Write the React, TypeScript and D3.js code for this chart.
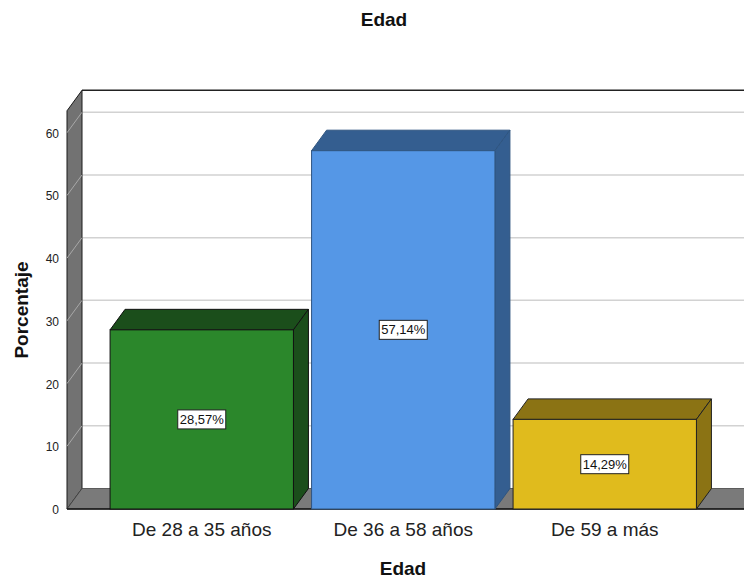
import React from "react";
import * as d3 from "d3";

const categories = ["De 28 a 35 años", "De 36 a 58 años", "De 59 a más"];
const values = [28.57, 57.14, 14.29];
const valueLabels = ["28,57%", "57,14%", "14,29%"];
const yTicks = [0, 10, 20, 30, 40, 50, 60];
const frontColors = ["#2b872b", "#5597e6", "#e0bb1d"];
const sideColors = ["#1b4e1b", "#345e90", "#8b7314"];
const strokeColors = ["#111", "#2f5580", "#222"];

const W = 744;
const H = 581;
const DX = 15;
const DY = -20.5;
const FONT = "'Liberation Sans', Arial, sans-serif";

export default function App() {
  const y = d3.scaleLinear().domain([0, 63.5]).range([509, 110.8]);
  const x = d3
    .scaleBand<string>()
    .domain(categories)
    .range([101, 705.5])
    .paddingInner(0.09)
    .paddingOuter(0.045);

  const wallLeft = 67;
  const right = W + 20;
  const y0 = y(0);
  const yTop = y(63.5);

  return (
    <svg
      width={W}
      height={H}
      style={{ position: "absolute", left: 0, top: 0, background: "#fff" }}
      fontFamily={FONT}
    >
      {/* back wall gridlines */}
      {yTicks.filter((t) => t > 0).map((t) => (
        <line
          key={t}
          x1={wallLeft + DX}
          x2={right}
          y1={y(t) + DY}
          y2={y(t) + DY}
          stroke="#d2d2d2"
          strokeWidth={1.5}
        />
      ))}
      {/* back wall top border */}
      <line x1={wallLeft + DX} x2={right} y1={yTop + DY} y2={yTop + DY} stroke="#222" strokeWidth={1.5} />
      {/* left wall */}
      <path
        d={`M${wallLeft},${y0} L${wallLeft},${yTop} L${wallLeft + DX},${yTop + DY} L${wallLeft + DX},${y0 + DY} Z`}
        fill="#727272"
        stroke="#1a1a1a"
        strokeWidth={1}
      />
      {yTicks.filter((t) => t > 0).map((t) => (
        <line
          key={"lw" + t}
          x1={wallLeft}
          y1={y(t)}
          x2={wallLeft + DX}
          y2={y(t) + DY}
          stroke="#a8a8a8"
          strokeWidth={1}
        />
      ))}
      {/* floor */}
      <path
        d={`M${wallLeft},${y0} L${wallLeft + DX},${y0 + DY} L${right},${y0 + DY} L${right},${y0} Z`}
        fill="#7a7a7a"
        stroke="#444"
        strokeWidth={0.8}
      />
      <line x1={wallLeft} x2={right} y1={y0} y2={y0} stroke="#111" strokeWidth={1.5} />

      {/* bars */}
      {categories.map((c, i) => {
        const bx = x(c) as number;
        const bw = x.bandwidth();
        const by = y(values[i]);
        return (
          <g key={c}>
            <path
              d={`M${bx},${by} L${bx + DX},${by + DY} L${bx + bw + DX},${by + DY} L${bx + bw},${by} Z`}
              fill={sideColors[i]}
              stroke={strokeColors[i]}
              strokeWidth={1}
            />
            <path
              d={`M${bx + bw},${by} L${bx + bw + DX},${by + DY} L${bx + bw + DX},${y0 + DY} L${bx + bw},${y0} Z`}
              fill={sideColors[i]}
              stroke={strokeColors[i]}
              strokeWidth={1}
            />
            <rect
              x={bx}
              y={by}
              width={bw}
              height={y0 - by}
              fill={frontColors[i]}
              stroke={strokeColors[i]}
              strokeWidth={1}
            />
            <rect
              x={bx + bw / 2 - 24}
              y={(by + y0) / 2 - 9.5}
              width={48}
              height={19}
              fill="#fff"
              stroke="#222"
              strokeWidth={1}
            />
            <text
              x={bx + bw / 2}
              y={(by + y0) / 2}
              textAnchor="middle"
              dominantBaseline="central"
              fontSize={13}
              fill="#111"
            >
              {valueLabels[i]}
            </text>
            <text
              x={bx + bw / 2}
              y={529}
              textAnchor="middle"
              dominantBaseline="central"
              fontSize={19}
              fill="#222"
            >
              {c}
            </text>
          </g>
        );
      })}

      {/* y tick labels */}
      {yTicks.map((t) => (
        <text
          key={"t" + t}
          x={59}
          y={y(t) + 1}
          textAnchor="end"
          dominantBaseline="central"
          fontSize={12}
          fill="#222"
        >
          {t}
        </text>
      ))}

      {/* titles */}
      <text x={384} y={19} textAnchor="middle" dominantBaseline="central" fontSize={19} fontWeight="bold" fill="#111">
        Edad
      </text>
      <text x={403} y={568.5} textAnchor="middle" dominantBaseline="central" fontSize={19} fontWeight="bold" fill="#111">
        Edad
      </text>
      <text
        transform="translate(21,310) rotate(-90)"
        textAnchor="middle"
        dominantBaseline="central"
        fontSize={19}
        fontWeight="bold"
        fill="#111"
      >
        Porcentaje
      </text>
    </svg>
  );
}
